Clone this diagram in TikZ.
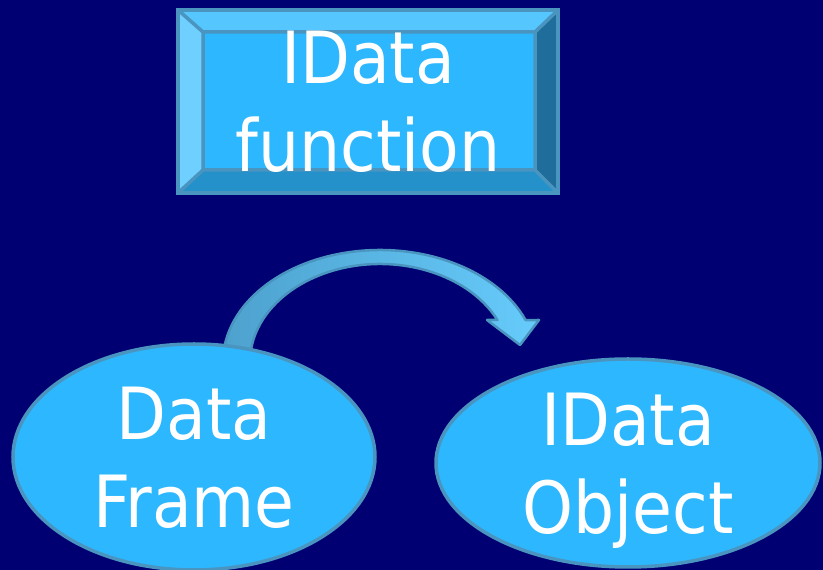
\documentclass[tikz,border=0pt]{standalone}
\usepackage{fontspec}
\setmainfont{DejaVu Sans Condensed}
\usepackage{xcolor}
\usetikzlibrary{positioning, calc, shapes.geometric}

\definecolor{navy}{RGB}{0,0,114}
\definecolor{face}{HTML}{2DB7FF}
\definecolor{edge}{HTML}{4A94C0}
\definecolor{bevtop}{HTML}{56C6FF}
\definecolor{bevleft}{HTML}{6FCFFF}
\definecolor{bevright}{HTML}{1E6D9B}
\definecolor{bevbot}{HTML}{2491CA}
\definecolor{arrowdark}{HTML}{4C9FCB}
\definecolor{arrowlight}{HTML}{66CBFB}

\tikzset{
  bigtext/.style={text=white, align=center, text depth=0pt,
    font=\fontsize{72}{88}\selectfont},
  bubble/.style={ellipse, draw=edge, line width=3.5pt, fill=face,
    inner sep=0pt, bigtext},
  bevelbox/.style={rectangle, draw=edge, line width=3.5pt, fill=face,
    minimum width=380pt, minimum height=183pt, inner sep=0pt, bigtext,
    path picture={
      \path (path picture bounding box.north west) coordinate (nw)
            (path picture bounding box.north east) coordinate (ne)
            (path picture bounding box.south west) coordinate (sw)
            (path picture bounding box.south east) coordinate (se);
      \path (nw) ++(25pt,-22pt) coordinate (inw)
            (ne) ++(-23pt,-22pt) coordinate (ine)
            (sw) ++(25pt,23pt) coordinate (isw)
            (se) ++(-23pt,23pt) coordinate (ise);
      \fill[bevtop] (nw) -- (ne) -- (ine) -- (inw) -- cycle;
      \fill[bevleft] (nw) -- (inw) -- (isw) -- (sw) -- cycle;
      \fill[bevright] (ne) -- (se) -- (ise) -- (ine) -- cycle;
      \fill[bevbot] (sw) -- (isw) -- (ise) -- (se) -- cycle;
      \draw[edge, line width=3.5pt] (inw) rectangle (ise)
            (nw) -- (inw) (ne) -- (ine) (sw) -- (isw) (se) -- (ise);
    }},
}

\begin{document}
\begin{tikzpicture}[x=1pt, y=1pt]
    \useasboundingbox (0,0) rectangle (823,570);
    \fill[navy] (0,0) rectangle (823,570);

    % curved block arrow, drawn first so the ellipse hides its tail
    \coordinate (bend) at (380,208);
    \draw[draw=edge, line width=2.5pt, left color=arrowdark, right color=arrowlight, line join=round]
        ($(bend)+(195:157 and 112)$) arc[start angle=195, end angle=22, x radius=157, y radius=112]
        -- (539,250) -- (520,225) -- (487,250)
        -- ($(bend)+(25.38:130 and 98)$) arc[start angle=25.38, end angle=195, x radius=130, y radius=98]
        -- cycle;

    \node[bevelbox] (fn) at (368,468.5) {IData\\function};
    \node[bubble, minimum width=362pt, minimum height=226pt] (df) at (194,113) {Data\\Frame};
    \node[bubble, minimum width=384pt, minimum height=208pt] (obj) at (628,107) {IData\\Object};
\end{tikzpicture}
\end{document}
